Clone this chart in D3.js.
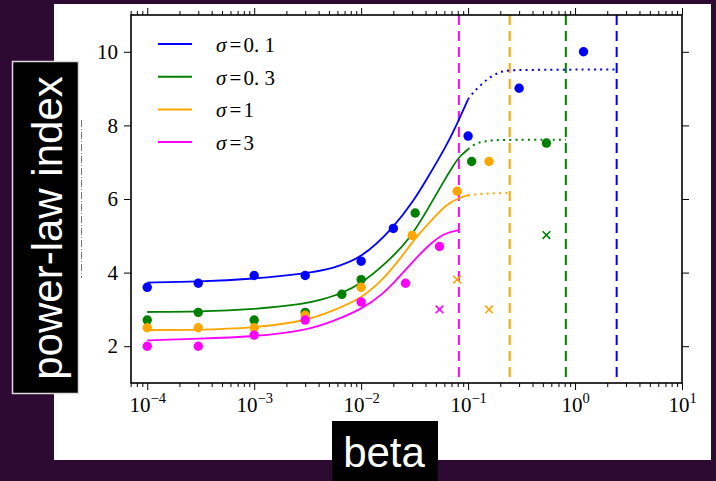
<!DOCTYPE html>
<html>
<head>
<meta charset="utf-8">
<script src="https://cdn.jsdelivr.net/npm/d3@7"></script>
<style>
  html, body { margin: 0; padding: 0; background: #2c0a31; }
  svg { display: block; }
  text { white-space: pre; }
</style>
</head>
<body>
<svg id="chart" width="716" height="481"></svg>
<script>
// ---- data ---------------------------------------------------------------
const seriesNames  = ["σ=0.1", "σ=0.3", "σ=1", "σ=3"];
const legendValues = ["0. 1", "0. 3", "1", "3"];
const seriesColors = ["#0000ff", "#008000", "#ffa500", "#ff00ff"];

// measured exponents (circles), [beta, index]
const pointsBlue    = [[1e-4,3.6],[3e-4,3.71],[1e-3,3.92],[3e-3,3.92],[1e-2,4.31],[0.02,5.2],[0.1,7.71],[0.3,9.01],[1.2,10.0]];
const pointsGreen   = [[1e-4,2.71],[3e-4,2.92],[1e-3,2.71],[3e-3,2.92],[6.6e-3,3.41],[1e-2,3.81],[0.032,5.62],[0.108,7.02],[0.54,7.52]];
const pointsOrange  = [[1e-4,2.5],[3e-4,2.5],[1e-3,2.5],[3e-3,2.84],[1e-2,3.6],[0.03,5.01],[0.079,6.21],[0.157,7.02]];
const pointsMagenta = [[1e-4,2.0],[3e-4,2.0],[1e-3,2.3],[3e-3,2.71],[1e-2,3.2],[0.026,3.71],[0.054,4.71]];

// unreliable estimates (crosses)
const crossesGreen   = [[0.54,5.02]];
const crossesOrange  = [[0.079,3.81],[0.157,3.0]];
const crossesMagenta = [[0.054,3.0]];

// theory curves (solid part)
const curveBlue    = [[1e-4,3.73],[3e-4,3.75],[1e-3,3.83],[3e-3,3.97],[5.5e-3,4.12],[1e-2,4.38],[0.02,5.21],[0.0316,5.99],[0.0403,6.5],[0.0628,7.44],[0.0836,8.2],[0.1,8.71]];
const curveGreen   = [[1e-4,2.93],[3e-4,2.94],[1e-3,3.0],[3e-3,3.15],[4.1e-3,3.25],[6.6e-3,3.43],[1e-2,3.7],[0.0173,4.27],[0.0285,4.9],[0.0437,5.81],[0.0583,6.45],[0.0724,6.9],[0.0836,7.17],[0.1,7.35]];
const curveOrange  = [[1e-4,2.44],[3e-4,2.44],[1e-3,2.5],[3e-3,2.68],[5.5e-3,2.97],[1e-2,3.29],[0.016,3.81],[0.023,4.36],[0.033,4.99],[0.0471,5.47],[0.0628,5.86],[0.0836,6.04],[0.1,6.1]];
const curveMagenta = [[1e-4,2.16],[3e-4,2.2],[1e-3,2.26],[3e-3,2.42],[5.5e-3,2.68],[1e-2,3.0],[0.016,3.41],[0.023,3.9],[0.033,4.41],[0.0471,4.86],[0.0628,5.09],[0.082,5.15]];

// theory curves (extrapolated, dotted part)
const dottedBlue   = [[0.1,8.71],[0.112,8.9],[0.133,9.12],[0.166,9.35],[0.212,9.48],[0.25,9.51],[2.45,9.52]];
const dottedGreen  = [[0.1,7.35],[0.114,7.49],[0.133,7.55],[0.154,7.58],[0.178,7.61],[0.82,7.61]];
const dottedOrange = [[0.1,6.1],[0.114,6.12],[0.133,6.14],[0.154,6.15],[0.178,6.16],[0.245,6.16]];

// critical beta for each sigma (vertical dashed lines)
const betaCritical = [2.45, 0.82, 0.245, 0.082];

const xMajorTicks = [1e-4, 1e-3, 1e-2, 1e-1, 1e0, 1e1];
const xTickExponents = ["−4", "−3", "−2", "−1", "0", "1"];
const yTicks = [2, 4, 6, 8, 10];

// ---- layout -------------------------------------------------------------
const svg = d3.select("#chart");
const plot = { left: 131, right: 682, top: 15, bottom: 383 };

const x = d3.scaleLog().domain([7.05e-5, 10]).range([plot.left, plot.right]);
const y = d3.scaleLinear().domain([1, 11]).range([plot.bottom, plot.top]);

// page background and white panel
svg.append("rect").attr("width", 716).attr("height", 481).attr("fill", "#2c0a31");
svg.append("rect").attr("x", 54).attr("y", 4).attr("width", 657).attr("height", 456).attr("fill", "#ffffff");

const serif = "'Liberation Serif', 'DejaVu Serif', serif";
const sans  = "'Liberation Sans', Arial, sans-serif";

// ---- axes ---------------------------------------------------------------
const minorTicks = [];
for (let e = -5; e <= 0; e++) for (let m = 2; m <= 9; m++) {
  const v = m * Math.pow(10, e);
  if (v >= 7e-5 && v <= 10) minorTicks.push(v);
}

function styleAxis(g) {
  g.select(".domain").remove();
  g.selectAll("line").attr("stroke", "#000").attr("stroke-width", 1);
}

const axBottom = svg.append("g").attr("transform", `translate(0,${plot.bottom})`)
  .call(d3.axisBottom(x).tickValues(xMajorTicks).tickSize(7).tickPadding(9).tickFormat(() => ""));
styleAxis(axBottom);
axBottom.selectAll(".tick text").each(function(d, i) {
  const t = d3.select(this)
    .attr("font-family", serif).attr("font-size", 21).attr("fill", "#000")
    .attr("y", 29).attr("dy", null).attr("text-anchor", "middle");
  t.append("tspan").text("10");
  t.append("tspan").attr("font-size", 14.5).attr("dy", -9).text(xTickExponents[i]);
});
svg.append("g").attr("transform", `translate(0,${plot.bottom})`)
  .call(d3.axisBottom(x).tickValues(minorTicks).tickSize(4).tickFormat(() => ""))
  .call(styleAxis);

const axTop = svg.append("g").attr("transform", `translate(0,${plot.top})`)
  .call(d3.axisTop(x).tickValues(xMajorTicks).tickSize(7).tickFormat(() => ""));
styleAxis(axTop);
svg.append("g").attr("transform", `translate(0,${plot.top})`)
  .call(d3.axisTop(x).tickValues(minorTicks).tickSize(4).tickFormat(() => ""))
  .call(styleAxis);

const axLeft = svg.append("g").attr("transform", `translate(${plot.left},0)`)
  .call(d3.axisLeft(y).tickValues(yTicks).tickSize(7).tickPadding(6).tickFormat(d3.format("d")));
styleAxis(axLeft);
axLeft.selectAll(".tick text").attr("font-family", serif).attr("font-size", 21).attr("fill", "#000");

svg.append("g").attr("transform", `translate(${plot.right},0)`)
  .call(d3.axisRight(y).tickValues(yTicks).tickSize(7).tickFormat(() => ""))
  .call(styleAxis);

// ---- marks --------------------------------------------------------------
svg.append("clipPath").attr("id", "plotclip")
  .append("rect").attr("x", plot.left).attr("y", plot.top)
  .attr("width", plot.right - plot.left).attr("height", plot.bottom - plot.top);

const layer = svg.append("g").attr("clip-path", "url(#plotclip)");

// vertical dashed lines at the critical betas
betaCritical.forEach((b, i) => {
  layer.append("line")
    .attr("x1", x(b)).attr("x2", x(b)).attr("y1", plot.top).attr("y2", plot.bottom)
    .attr("stroke", seriesColors[i]).attr("stroke-width", 2)
    .attr("stroke-dasharray", "10,6");
});

// B-spline through the sampled curve values keeps the sigmoid smooth
const line = d3.line().x(d => x(d[0])).y(d => y(d[1])).curve(d3.curveBasis);

[curveBlue, curveGreen, curveOrange, curveMagenta].forEach((c, i) => {
  layer.append("path").attr("d", line(c)).attr("fill", "none")
    .attr("stroke", seriesColors[i]).attr("stroke-width", 1.8);
});
[dottedBlue, dottedGreen, dottedOrange].forEach((c, i) => {
  layer.append("path").attr("d", line(c)).attr("fill", "none")
    .attr("stroke", seriesColors[i]).attr("stroke-width", 2)
    .attr("stroke-dasharray", "2,4.2");
});

[pointsBlue, pointsGreen, pointsOrange, pointsMagenta].forEach((pts, i) => {
  layer.selectAll(null).data(pts).join("circle")
    .attr("cx", d => x(d[0])).attr("cy", d => y(d[1])).attr("r", 4.7)
    .attr("fill", seriesColors[i]);
});

const crossPath = d3.symbol().type(d3.symbolX).size(40);
[[crossesGreen, 1], [crossesOrange, 2], [crossesMagenta, 3]].forEach(([pts, ci]) => {
  layer.selectAll(null).data(pts).join("path")
    .attr("d", crossPath)
    .attr("transform", d => `translate(${x(d[0])},${y(d[1])})`)
    .attr("fill", "none").attr("stroke", seriesColors[ci]).attr("stroke-width", 1.6);
});

// plot frame
svg.append("rect").attr("x", plot.left).attr("y", plot.top)
  .attr("width", plot.right - plot.left).attr("height", plot.bottom - plot.top)
  .attr("fill", "none").attr("stroke", "#000").attr("stroke-width", 1.6);

// ---- legend -------------------------------------------------------------
const legend = svg.append("g");
seriesNames.forEach((name, i) => {
  const ly = 44 + i * 32.7;
  legend.append("line").attr("x1", 158).attr("x2", 192).attr("y1", ly).attr("y2", ly)
    .attr("stroke", seriesColors[i]).attr("stroke-width", 2);
  const t = legend.append("text").attr("y", ly + 8)
    .attr("font-family", serif).attr("font-size", 21).attr("fill", "#000");
  t.append("tspan").attr("x", 216).attr("font-style", "italic").text("σ");
  t.append("tspan").attr("x", 229.5).text("=");
  t.append("tspan").attr("x", 243.5).text(legendValues[i]);
});

// ---- axis titles --------------------------------------------------------
svg.append("line").attr("x1", 81.5).attr("x2", 81.5).attr("y1", 120).attr("y2", 278)
  .attr("stroke", "#777").attr("stroke-width", 1).attr("stroke-dasharray", "7,2,1,2");

svg.append("rect").attr("x", 12.5).attr("y", 61.5).attr("width", 66).attr("height", 332)
  .attr("fill", "#000").attr("stroke", "#dcdcdc").attr("stroke-width", 1.5);
svg.append("text")
  .attr("transform", "translate(62,228) rotate(-90)")
  .attr("text-anchor", "middle").attr("font-family", sans).attr("font-size", 42)
  .attr("fill", "#fff").text("power-law index");

svg.append("rect").attr("x", 332).attr("y", 421).attr("width", 106).attr("height", 64)
  .attr("fill", "#000");
svg.append("text").attr("x", 384).attr("y", 467)
  .attr("text-anchor", "middle").attr("font-family", sans).attr("font-size", 42)
  .attr("fill", "#fff").text("beta");
</script>
</body>
</html>
